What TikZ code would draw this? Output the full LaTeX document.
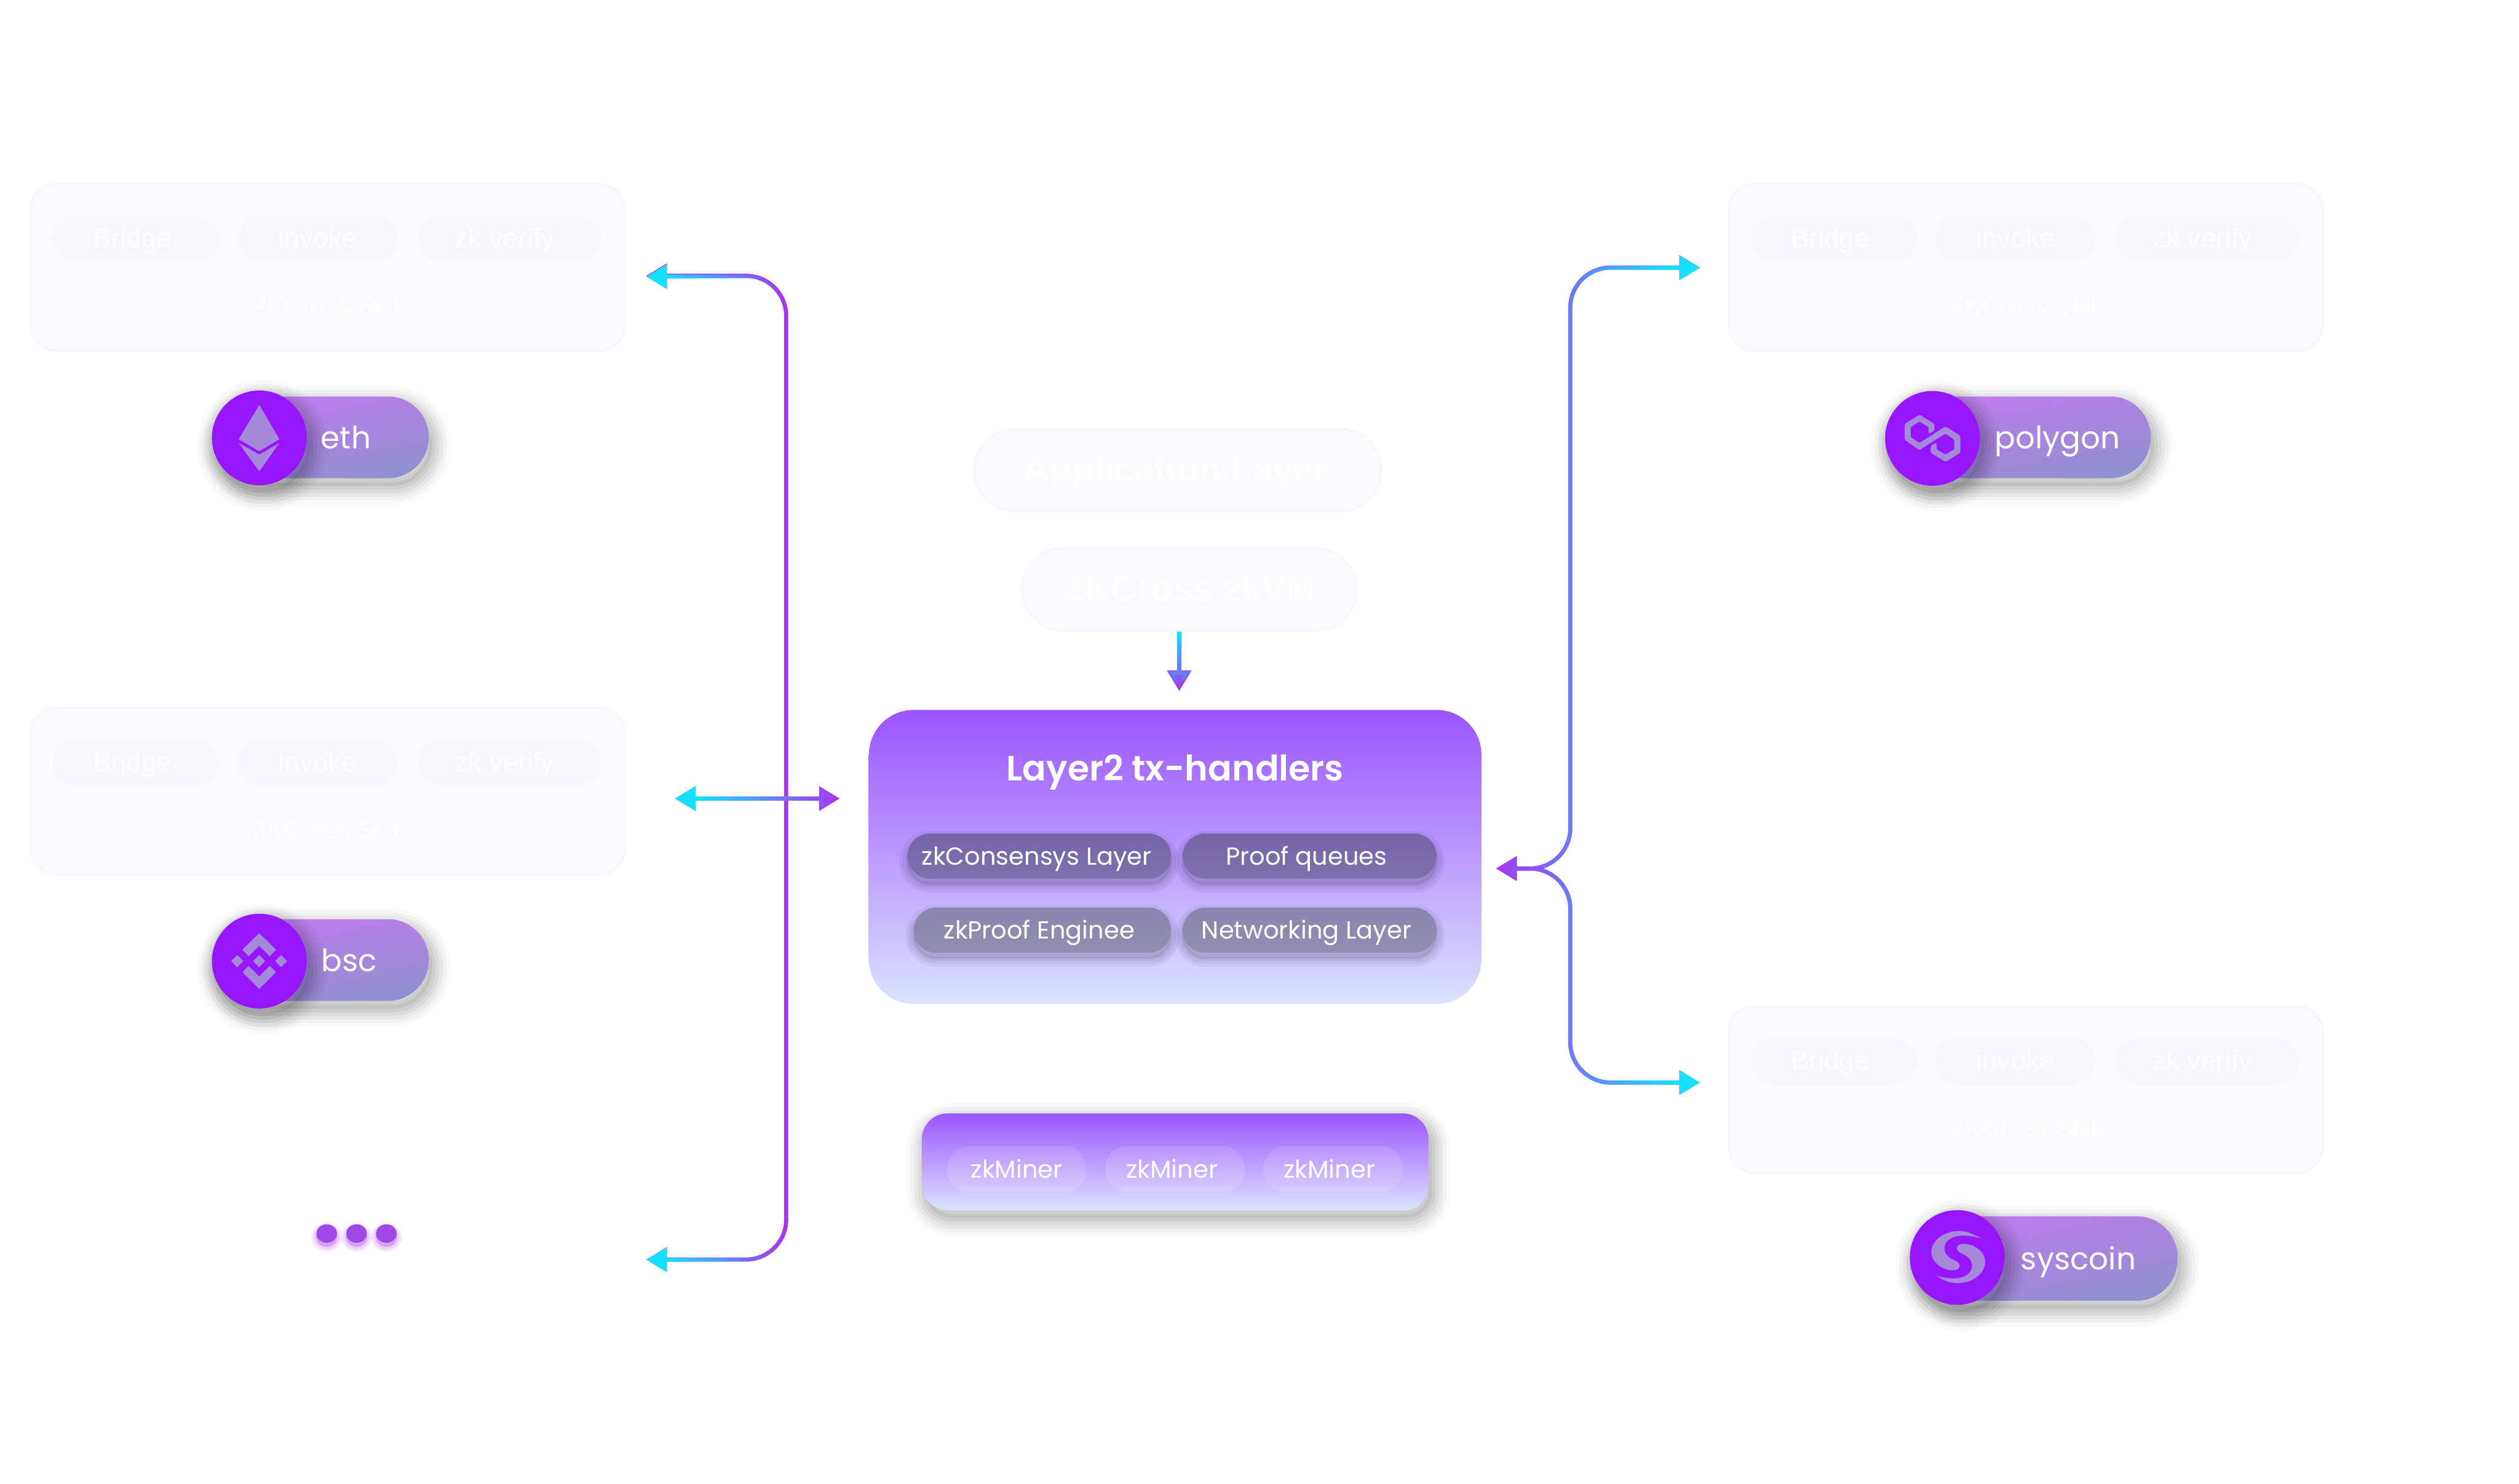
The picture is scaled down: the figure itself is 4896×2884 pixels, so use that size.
\documentclass[tikz,border=0pt]{standalone}
\usepackage{fontspec}
\setmainfont{Poppins}
\newfontfamily\sdkfont{Liberation Sans}
\newfontfamily\titlefont{Poppins SemiBold}
\usetikzlibrary{arrows.meta,positioning,shapes.geometric,calc,fadings,shadows}
\definecolor{cPurple}{HTML}{AD2FF0}
\definecolor{cCyan}{HTML}{16E0FF}
\definecolor{cViolet}{HTML}{9716FF}
\definecolor{cIcon}{HTML}{A58AD9}
\definecolor{cHeadTop}{HTML}{9B54FF}
\definecolor{cHeadMid}{HTML}{B3A4FF}
\definecolor{cHeadLow}{HTML}{DBE3FF}
\definecolor{cPillTop}{HTML}{C17BEE}
\definecolor{cPillLow}{HTML}{8F90CF}
\definecolor{cGhostFill}{HTML}{FBFBFF}
\definecolor{cGhostEdge}{HTML}{F6F6FD}
\definecolor{cGhostChip}{HTML}{F7F7FD}
\definecolor{cDot}{HTML}{9F48E5}
\definecolor{cChipA}{HTML}{7565A9}
\definecolor{cChipB}{HTML}{7D72AC}
\definecolor{cChipC}{HTML}{8A86AE}
\definecolor{cChipD}{HTML}{908EB0}
\pgfdeclarehorizontalshading{rampOnLeft}{100bp}{color(0bp)=(white); color(32bp)=(white); color(75bp)=(black); color(100bp)=(black)}
\pgfdeclarehorizontalshading{rampOnRight}{100bp}{color(0bp)=(black); color(25bp)=(black); color(68bp)=(white); color(100bp)=(white)}
\pgfdeclarefading{fadeOnLeft}{\pgfuseshading{rampOnLeft}}
\pgfdeclarefading{fadeOnRight}{\pgfuseshading{rampOnRight}}
\tikzfading[name=fadeOnTop, top color=transparent!0, bottom color=transparent!100]
\tikzset{
  softfill/.style={general shadow={shadow xshift=0.07cm, shadow yshift=-0.15cm, fill=black, opacity=0.06}},
  softlayer/.style 2 args={general shadow={shadow xshift=0.07cm, shadow yshift=-0.15cm, draw=black, opacity=#2, line width=#1}},
  softshadow/.style={softfill, softlayer={0.7cm}{0.025}, softlayer={0.56cm}{0.03}, softlayer={0.42cm}{0.04}, softlayer={0.28cm}{0.05}, softlayer={0.14cm}{0.05}},
  chiplayer/.style={general shadow={shadow xshift=0cm, shadow yshift=-0.11cm, draw=black, opacity=0.05, line width=#1}},
  chipshadow/.style={general shadow={shadow xshift=0cm, shadow yshift=-0.11cm, fill=black, opacity=0.08}, chiplayer=0.32cm, chiplayer=0.2cm, chiplayer=0.08cm},
  glowlayer/.style={general shadow={shadow xshift=0cm, shadow yshift=-0.07cm, draw=cPurple, fill=cPurple, opacity=0.1, line width=#1}},
  sdkcard/.style={draw=cGhostEdge, fill=cGhostFill, line width=0.03cm, rounded corners=0.5cm, minimum width=11.55cm, minimum height=3.24cm},
  sdkchip/.style={draw=cGhostChip, fill=cGhostChip, line width=0.03cm, rounded corners=0.44cm, minimum height=0.86cm, font=\fontsize{15}{17}\sdkfont, text=white, text height=0.46cm, text depth=0.11cm},
  sdklabel/.style={font=\fontsize{14}{16}\sdkfont, text=white},
  layercard/.style={draw=cGhostEdge, fill=cGhostFill, line width=0.03cm, rounded corners=0.8cm, minimum height=1.6cm, font=\fontsize{20}{24}\sdkfont\bfseries, text=white, text height=0.58cm, text depth=0.13cm},
  chainpill/.style={rounded corners=0.79cm, minimum height=1.59cm, top color=cPillTop, bottom color=cPillLow, shading angle=12, softshadow},
  chainname/.style={font=\fontsize{17}{20}\selectfont, text=white, anchor=west, inner sep=0pt, text height=0.56cm, text depth=0.12cm},
  chainicon/.style={circle, fill=cViolet, minimum size=1.84cm, inner sep=0pt, softshadow},
  handlerchip/.style={rounded corners=0.44cm, minimum height=0.88cm, font=\fontsize{13.6}{16}\selectfont, text=white, text height=0.46cm, text depth=0.12cm, chipshadow},
  minerchip/.style={rounded corners=0.44cm, minimum width=2.7cm, minimum height=0.89cm, draw=white, draw opacity=0.08, fill=white, fill opacity=0.12, text opacity=1, font=\fontsize{13.6}{16}\selectfont, text=white},
  morenode/.style={ellipse, fill=cDot, minimum width=0.4cm, minimum height=0.36cm, inner sep=0pt, glowlayer=0.2cm, glowlayer=0.12cm, glowlayer=0.05cm},
  linkbase/.style={draw=cPurple, line width=0.08cm, rounded corners=0.78cm, >={Triangle[length=0.4cm,width=0.46cm]}},
}
\newcommand{\gradlink}[3]{%
  \draw[linkbase,#1] #3;
  \draw[linkbase,#1,draw=cCyan,#2] #3;}

\begin{document}
\begin{tikzpicture}[x=0.01cm, y=-0.01cm]
  \useasboundingbox[fill=white] (0,0) rectangle (4896,2884);

  % sdk cards on the left
  \node[sdkcard] (sdkEth) at (637,519.5) {};
  \node[sdkchip, minimum width=3.19cm] (ethBridge) at (263.5,464) {Bridge\kern0.12cm};
  \node[sdkchip, minimum width=3.07cm] (ethInvoke) at (617.5,464) {invoke};
  \node[sdkchip, minimum width=3.54cm] (ethVerify) at (990,464) {zk verify\kern0.18cm};
  \node[sdklabel] (ethSdk) at (643,595) {ZKCross SDK};

  \node[sdkcard] (sdkBsc) at (637,1537.5) {};
  \node[sdkchip, minimum width=3.19cm] (bscBridge) at (263.5,1482) {Bridge\kern0.12cm};
  \node[sdkchip, minimum width=3.07cm] (bscInvoke) at (617.5,1482) {invoke};
  \node[sdkchip, minimum width=3.54cm] (bscVerify) at (990,1482) {zk verify\kern0.18cm};
  \node[sdklabel] (bscSdk) at (643,1613) {ZKCross SDK};

  % sdk cards on the right
  \node[sdkcard] (sdkPoly) at (3937,519.5) {};
  \node[sdkchip, minimum width=3.19cm] (polyBridge) at (3563.5,464) {Bridge\kern0.12cm};
  \node[sdkchip, minimum width=3.07cm] (polyInvoke) at (3917.5,464) {invoke};
  \node[sdkchip, minimum width=3.54cm] (polyVerify) at (4290,464) {zk verify\kern0.18cm};
  \node[sdklabel] (polySdk) at (3943,595) {ZKCross SDK};

  \node[sdkcard] (sdkSys) at (3937,2117.5) {};
  \node[sdkchip, minimum width=3.19cm] (sysBridge) at (3563.5,2062) {Bridge\kern0.12cm};
  \node[sdkchip, minimum width=3.07cm] (sysInvoke) at (3917.5,2062) {invoke};
  \node[sdkchip, minimum width=3.54cm] (sysVerify) at (4290,2062) {zk verify\kern0.18cm};
  \node[sdklabel] (sysSdk) at (3943,2193) {ZKCross SDK};

  % chain pills
  \node[chainpill, minimum width=4.1cm] (pillEth) at (628,850) {};
  \node[chainicon] (iconEth) at (504,851) {};
  \node[chainname] (nameEth) at (623,850) {eth};
  \node[chainpill, minimum width=4.1cm] (pillBsc) at (628,1866) {};
  \node[chainicon] (iconBsc) at (504,1868) {};
  \node[chainname] (nameBsc) at (624,1866) {bsc};
  \node[chainpill, minimum width=5.0cm] (pillPoly) at (3930,850) {};
  \node[chainicon] (iconPoly) at (3756,852) {};
  \node[chainname] (namePoly) at (3876,850) {polygon};
  \node[chainpill, minimum width=5.0cm, minimum height=1.64cm] (pillSys) at (3982,2446) {};
  \node[chainicon] (iconSys) at (3804,2444) {};
  \node[chainname] (nameSys) at (3927,2446) {syscoin};

  % eth icon
  \fill[cIcon] (504,787) -- (543,853.5) -- (504,877) -- (464,853.5) -- cycle;
  \fill[cIcon] (464,861) -- (504,883.5) -- (543,861) -- (504,916) -- cycle;

  % bsc icon
  \begin{scope}[shift={(380,1760)}, x=0.00333cm, y=-0.004464cm]
    \fill[cIcon] (372,120) -- (470,192) -- (434,220) -- (372,175) -- (310,220) -- (273,192) -- cycle;
    \fill[cIcon] (372,362) -- (470,290) -- (434,262) -- (372,308) -- (310,262) -- (275,290) -- cycle;
    \fill[cIcon] (209,241) -- (243,215) -- (279,241) -- (243,268) -- cycle;
    \fill[cIcon] (465,241) -- (500,215) -- (535,241) -- (500,268) -- cycle;
    \fill[cIcon] (337,241) -- (372,215) -- (406,241) -- (372,268) -- cycle;
  \end{scope}

  % polygon icon
  \begin{scope}[shift={(3600,720)}, x=0.004464cm, y=-0.00333cm]
    \fill[cIcon, rounded corners=0.03cm] (292,258) -- (357,312) -- (357,352) -- (332,370) -- (332,330) -- (292,298) -- (254,330) -- (254,390) -- (292,424)
      -- (405,327) -- (470,382) -- (470,480) -- (405,534) -- (341,480) -- (341,440) -- (366,421) -- (366,460) -- (405,492) -- (444,460) -- (444,405) -- (405,368)
      -- (292,465) -- (228,405) -- (228,312) -- cycle;
  \end{scope}

  % syscoin icon
  \begin{scope}[shift={(3650,2320)}, x=0.004464cm, y=-0.00333cm]
    \fill[cIcon] (447,262) .. controls (410,232) and (385,218) .. (352,218) .. controls (285,218) and (232,275) .. (232,342)
      .. controls (232,400) and (280,447) .. (325,447) .. controls (345,447) and (355,435) .. (355,420)
      .. controls (355,405) and (340,393) .. (325,385) .. controls (300,367) and (289,345) .. (289,320)
      .. controls (289,270) and (325,245) .. (372,245) .. controls (400,245) and (425,253) .. (447,262) -- cycle;
    \fill[cIcon] (251,478) .. controls (288,508) and (313,522) .. (346,522) .. controls (413,522) and (466,465) .. (466,398)
      .. controls (466,340) and (418,293) .. (373,293) .. controls (353,293) and (343,305) .. (343,320)
      .. controls (343,335) and (358,347) .. (373,355) .. controls (398,373) and (409,395) .. (409,420)
      .. controls (409,470) and (373,495) .. (326,495) .. controls (298,495) and (273,487) .. (251,478) -- cycle;
  \end{scope}

  % three dots
  \node[morenode] (moreA) at (635,2397.5) {};
  \node[morenode] (moreB) at (693,2397.5) {};
  \node[morenode] (moreC) at (751,2397.5) {};

  % upper layers
  \node[layercard, minimum width=7.91cm] (appLayer) at (2289,913.5) {Application Layer\kern0.08cm};
  \node[layercard, minimum width=6.51cm] (zkvmLayer) at (2312,1145.5) {ZKCross zkVM};

  % handlers box
  \node[rounded corners=0.87cm, minimum width=11.9cm, minimum height=5.71cm, top color=cHeadTop, middle color=cHeadMid, bottom color=cHeadLow] (handlerBox) at (2284,1665.5) {};
  \node[font=\fontsize{19.4}{22}\titlefont, text=white, text height=0.58cm, text depth=0.12cm] (handlerTitle) at (2284,1494) {Layer2 tx-handlers};
  \node[handlerchip, minimum width=5.12cm, top color=cChipA, bottom color=cChipB] (chipConsensys) at (2020,1664) {zkConsensys Layer\kern0.1cm};
  \node[handlerchip, minimum width=4.93cm, top color=cChipA, bottom color=cChipB] (chipQueues) at (2545.5,1664) {Proof queues\kern0.12cm};
  \node[handlerchip, minimum width=5.0cm, top color=cChipC, bottom color=cChipD] (chipEngine) at (2026,1808) {zkProof Enginee\kern0.12cm};
  \node[handlerchip, minimum width=4.93cm, top color=cChipC, bottom color=cChipD] (chipNetwork) at (2545.5,1808) {Networking Layer\kern0.12cm};

  % miners box
  \node[rounded corners=0.5cm, minimum width=9.84cm, minimum height=1.88cm, top color=cHeadTop, middle color=cHeadMid, bottom color=cHeadLow, softshadow] (minerBox) at (2284,2258) {};
  \node[minerchip] (minerA) at (1976,2272) {zkMiner};
  \node[minerchip] (minerB) at (2284,2272) {zkMiner\kern0.12cm};
  \node[minerchip] (minerC) at (2591,2272) {zkMiner\kern0.14cm};

  % connector ends
  \coordinate (leftTop) at (1256,536);
  \coordinate (leftBot) at (1256,2448);
  \coordinate (leftBusTop) at (1528,536);
  \coordinate (leftBusBot) at (1528,2448);
  \coordinate (midLeft) at (1312,1552);
  \coordinate (midRight) at (1632,1552);
  \coordinate (midCentre) at (1472,1552);
  \coordinate (hubTip) at (2908,1688);
  \coordinate (hubBus) at (3052,1688);
  \coordinate (rightBusTop) at (3052,520);
  \coordinate (rightTop) at (3304,520);
  \coordinate (rightBusBot) at (3052,2104);
  \coordinate (rightBot) at (3304,2104);
  \coordinate (zkvmEnd) at (2292,1343);
  \coordinate (zkvmCentre) at (2292,1285.5);

  % connectors
  \gradlink{<->}{path fading=fadeOnLeft}{(leftTop) -- (leftBusTop) -- (leftBusBot) -- (leftBot)}
  \gradlink{<->}{path fading=fadeOnLeft, fit fading=false, fading transform={shift={(midCentre)},xscale=1.807}}{(midLeft) -- (midRight)}
  \gradlink{<->}{path fading=fadeOnRight}{(hubTip) -- (hubBus) -- (rightBusTop) -- (rightTop)}
  \gradlink{<->}{path fading=fadeOnRight}{(hubTip) -- (hubBus) -- (rightBusBot) -- (rightBot)}
  \gradlink{->}{path fading=fadeOnTop, fit fading=false, fading transform={shift={(zkvmCentre)},yscale=0.65}}{(zkvmLayer.south -| zkvmEnd) -- (zkvmEnd)}
\end{tikzpicture}
\end{document}
